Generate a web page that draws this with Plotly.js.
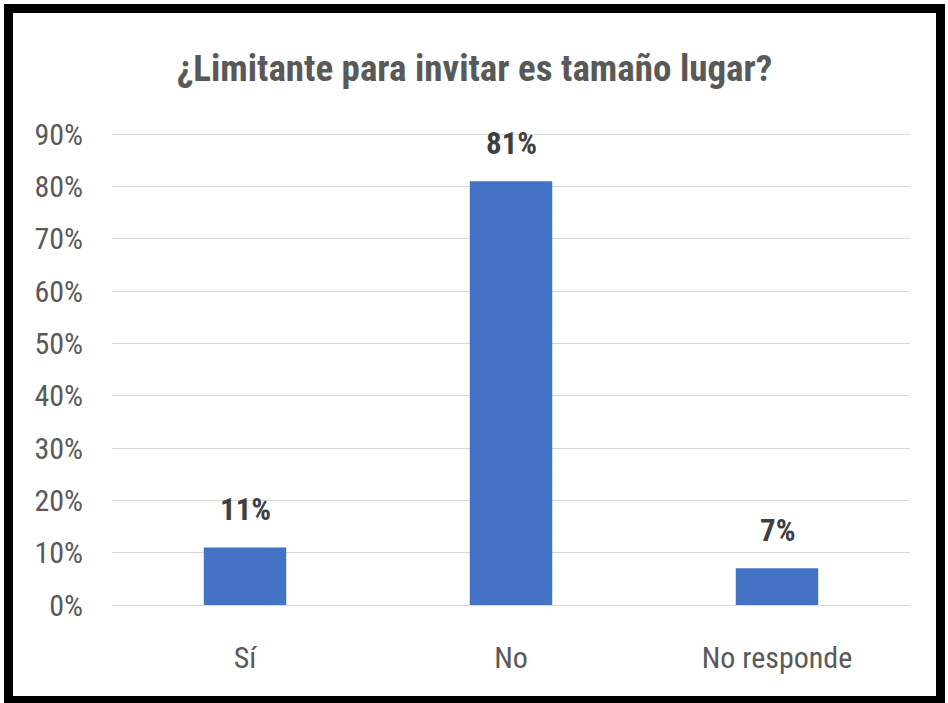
<!DOCTYPE html>
<html>
<head>
<meta charset="utf-8">
<script src="https://cdn.plot.ly/plotly-3.0.1.min.js"></script>
<style>
  html, body { margin: 0; padding: 0; background: #ffffff; }
  #frame {
    position: absolute; left: 4px; top: 4px;
    width: 923px; height: 683px;
    border-style: solid; border-color: #000000;
    border-width: 9px 9px 8px 9px;
    background: #ffffff;
  }
  #chart { width: 923px; height: 683px; }
</style>
</head>
<body>
<div id="frame"><div id="chart"></div></div>
<script>
const categories = ["Sí", "No", "No responde"];
const values = [0.11, 0.81, 0.07];
const labels = ["11%", "81%", "7%"];
const tickVals = [0, 0.1, 0.2, 0.3, 0.4, 0.5, 0.6, 0.7, 0.8, 0.9];
const tickText = ["0%", "10%", "20%", "30%", "40%", "50%", "60%", "70%", "80%", "90%"];
const chartTitle = "¿Limitante para invitar es tamaño lugar?";

const FONT = "'Liberation Sans Narrow', 'Arial Narrow', 'Roboto Condensed', sans-serif";

const trace = {
  type: "bar",
  x: categories,
  y: values,
  marker: { color: "#4472C4" },
  width: 0.31,
  hoverinfo: "skip"
};

const annotations = categories.map((c, i) => ({
  x: c, y: values[i], xref: "x", yref: "y",
  text: "<b>" + labels[i] + "</b>",
  showarrow: false,
  yanchor: "bottom",
  yshift: 17,
  font: { family: FONT, size: 31, color: "#404040" }
}));

const layout = {
  width: 923, height: 683,
  margin: { l: 99, r: 26, t: 120, b: 91 },
  paper_bgcolor: "#ffffff",
  plot_bgcolor: "#ffffff",
  showlegend: false,
  annotations: annotations,
  title: {
    text: "<b>" + chartTitle + "</b>",
    font: { family: FONT, size: 37, color: "#595959" },
    x: 0.5, xanchor: "center",
    y: 1 - 55 / 683, yanchor: "middle"
  },
  xaxis: {
    type: "category",
    showgrid: false,
    showline: true,
    linecolor: "#d9d9d9",
    linewidth: 1,
    ticks: "",
    tickfont: { family: FONT, size: 30, color: "#595959" },
    ticklabelstandoff: 26,
    zeroline: false
  },
  yaxis: {
    range: [0, 0.902],
    tickvals: tickVals,
    ticktext: tickText,
    showgrid: true,
    gridcolor: "#d9d9d9",
    gridwidth: 1,
    zeroline: false,
    showline: false,
    ticks: "",
    tickfont: { family: FONT, size: 30, color: "#595959" },
    ticklabelstandoff: 28
  },
  bargap: 0.69
};

Plotly.newPlot("chart", [trace], layout, { displayModeBar: false, staticPlot: true });
</script>
</body>
</html>
